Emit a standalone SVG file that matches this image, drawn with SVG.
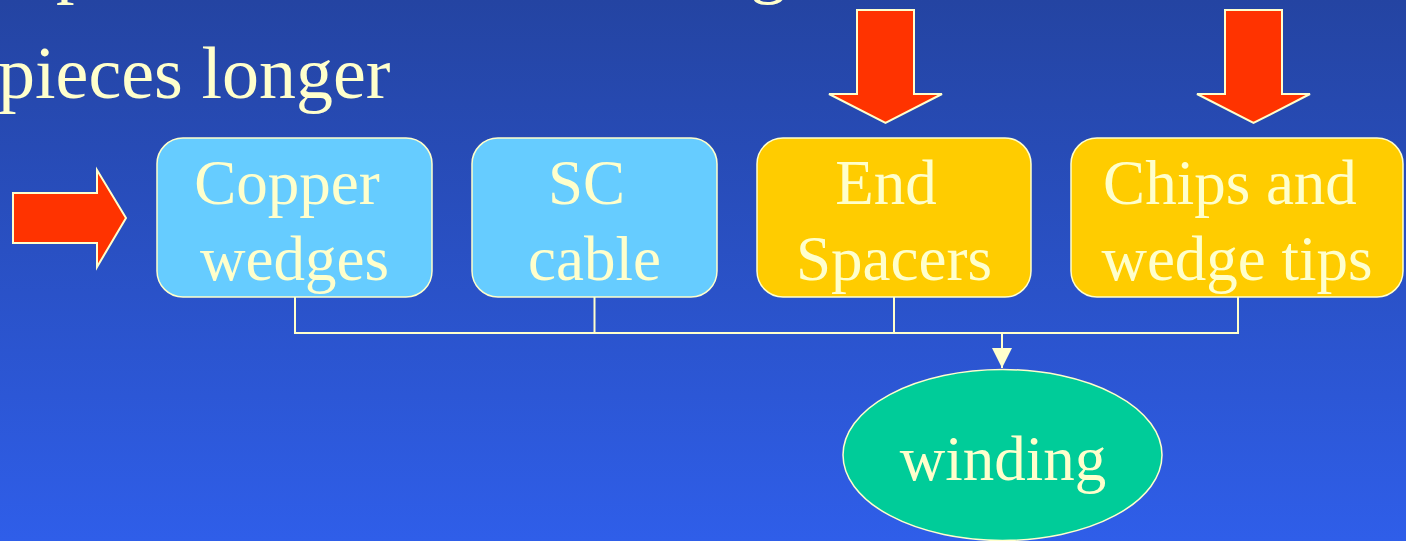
<svg xmlns="http://www.w3.org/2000/svg" width="1406" height="541" viewBox="0 0 1406 541">
<defs>
<linearGradient id="bg" x1="0" y1="0" x2="0" y2="1">
<stop offset="0" stop-color="#2444a2"/>
<stop offset="1" stop-color="#2f5ee9"/>
</linearGradient>
<marker id="ah" viewBox="0 0 20 20" refX="20" refY="10" markerWidth="20" markerHeight="20" markerUnits="userSpaceOnUse" orient="auto">
<path d="M0,0 L20,10 L0,20 Z" fill="#FFFFCC"/>
</marker>
<style>
text{fill:#FFFFCC;}
.t{font-size:74px;}
.lbl{font-size:63px;text-anchor:middle;}
.box{stroke:#FFFFCC;stroke-width:1.5;}
.blue{fill:#66CCFF;}
.yel{fill:#FFCC00;}
.red{fill:#FF3300;stroke:#FFFFCC;stroke-width:2;stroke-linejoin:miter;}
.con{fill:none;stroke:#FFFFCC;stroke-width:2;}
</style>
</defs>
<rect width="1406" height="541" fill="url(#bg)"/>
<g id="title" font-family="Liberation Serif, Times New Roman, DejaVu Serif, serif">
<text class="t" x="56" y="-11">p</text>
<text class="t" x="750" y="-11">g</text>
<text class="t" x="-2" y="98">pieces longer</text>
</g>
<g id="arrow-left">
<polygon class="red" points="13,193 97,193 97,170 126,218 97,267 97,243 13,243"/>
</g>
<g id="arrow-down-1">
<polygon class="red" points="857,10 914,10 914,94 942,94 885.5,123 829,94 857,94"/>
</g>
<g id="arrow-down-2">
<polygon class="red" points="1225,10 1282,10 1282,94 1310,94 1253.5,123 1197,94 1225,94"/>
</g>
<g id="connectors">
<polyline class="con" points="295,297 295,333 1238,333 1238,297"/>
<line class="con" x1="594.5" y1="297" x2="594.5" y2="333"/>
<line class="con" x1="894" y1="297" x2="894" y2="333"/>
<line class="con" x1="1002" y1="333" x2="1002" y2="368" marker-end="url(#ah)"/>
</g>
<g id="copper-wedges" font-family="Liberation Serif, Times New Roman, DejaVu Serif, serif">
<rect class="box blue" x="157" y="138" width="275" height="159" rx="26"/>
<text class="lbl" x="287" y="204">Copper</text>
<text class="lbl" x="294.5" y="280">wedges</text>
</g>
<g id="sc-cable" font-family="Liberation Serif, Times New Roman, DejaVu Serif, serif">
<rect class="box blue" x="472" y="138" width="245" height="159" rx="26"/>
<text class="lbl" x="586.5" y="204">SC</text>
<text class="lbl" x="594.5" y="280">cable</text>
</g>
<g id="end-spacers" font-family="Liberation Serif, Times New Roman, DejaVu Serif, serif">
<rect class="box yel" x="757" y="138" width="274" height="159" rx="26"/>
<text class="lbl" x="886" y="204">End</text>
<text class="lbl" x="894" y="280">Spacers</text>
</g>
<g id="chips-wedge-tips" font-family="Liberation Serif, Times New Roman, DejaVu Serif, serif">
<rect class="box yel" x="1071" y="138" width="332" height="159" rx="26"/>
<text class="lbl" x="1230" y="204">Chips and</text>
<text class="lbl" x="1237" y="280">wedge tips</text>
</g>
<g id="winding" font-family="Liberation Serif, Times New Roman, DejaVu Serif, serif">
<ellipse cx="1002.5" cy="455" rx="159.5" ry="85.5" fill="#00CC99" stroke="#FFFFCC" stroke-width="1.5"/>
<text class="lbl" x="1003" y="480">winding</text>
</g>
</svg>
